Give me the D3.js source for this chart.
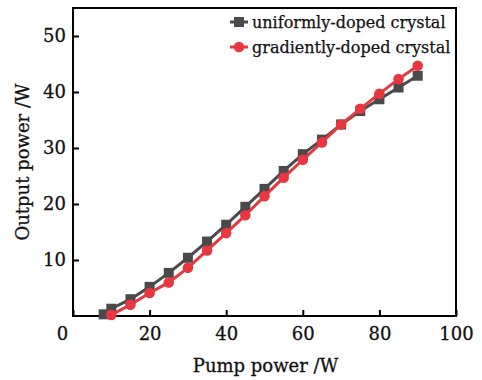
<!DOCTYPE html>
<html>
<head>
<meta charset="utf-8">
<script src="https://cdn.jsdelivr.net/npm/d3@7"></script>
<style>
  html, body { margin: 0; padding: 0; background: #fff; }
  #chart svg { display: block; font-family: "DejaVu Serif", serif; }
</style>
</head>
<body>
<div id="chart"></div>
<script>
// pump power vs output power, two crystals
const uniformX = [8, 10, 15, 20, 25, 30, 35, 40, 45, 50, 55, 60, 65, 70, 75, 80, 85, 90];
const uniformY = [0.3, 1.3, 3.0, 5.2, 7.7, 10.4, 13.3, 16.3, 19.5, 22.7, 25.9, 28.9, 31.5, 34.2, 36.6, 38.7, 40.8, 42.9];
const gradientX = [10, 15, 20, 25, 30, 35, 40, 45, 50, 55, 60, 65, 70, 75, 80, 85, 90];
const gradientY = [0.2, 2.0, 4.1, 6.0, 8.6, 11.7, 14.8, 18.0, 21.4, 24.7, 27.9, 31.0, 34.2, 37.0, 39.7, 42.3, 44.7];
const xTicks = [0, 20, 40, 60, 80, 100];
const yTicks = [10, 20, 30, 40, 50];
const seriesNames = ["uniformly-doped crystal", "gradiently-doped crystal"];

const GREY = "#4a4a4a", RED = "#e8373f";

const width = 482, height = 380;
const margin = { top: 8, right: 26, bottom: 64, left: 73 };

const svg = d3.select("#chart").append("svg")
  .attr("width", width)
  .attr("height", height);

const x = d3.scaleLinear().domain([0, 100]).range([margin.left, width - margin.right]);
const y = d3.scaleLinear().domain([0, 55]).range([height - margin.bottom, margin.top]);

/* ---------- axes ---------- */
svg.append("g")
  .attr("transform", `translate(0,${height - margin.bottom})`)
  .call(d3.axisBottom(x).tickValues(xTicks).tickSizeInner(-6).tickSizeOuter(0).tickPadding(11))
  .call(g => g.select(".domain").remove())
  .call(g => g.selectAll(".tick line").attr("stroke", "#000").attr("stroke-width", 2))
  .call(g => g.selectAll(".tick text").attr("font-size", 18).attr("fill", "#111")
    .attr("stroke", "#111").attr("stroke-width", 0.3)
    .attr("font-family", "DejaVu Serif, serif")
    .attr("dx", d => d === 0 ? -11 : 0));

svg.append("g")
  .attr("transform", `translate(${margin.left},0)`)
  .call(d3.axisLeft(y).tickValues(yTicks).tickSizeInner(-6).tickSizeOuter(0).tickPadding(7))
  .call(g => g.select(".domain").remove())
  .call(g => g.selectAll(".tick line").attr("stroke", "#000").attr("stroke-width", 2))
  .call(g => g.selectAll(".tick text").attr("font-size", 18).attr("fill", "#111")
    .attr("stroke", "#111").attr("stroke-width", 0.3)
    .attr("font-family", "DejaVu Serif, serif"));

// frame
svg.append("rect")
  .attr("x", x(0)).attr("y", y(55))
  .attr("width", x(100) - x(0)).attr("height", y(0) - y(55))
  .attr("fill", "none").attr("stroke", "#000").attr("stroke-width", 2);

// titles
svg.append("text")
  .attr("x", (x(0) + x(100)) / 2 + 1).attr("y", 372)
  .attr("text-anchor", "middle").attr("font-size", 18).attr("fill", "#111")
  .attr("stroke", "#111").attr("stroke-width", 0.3)
  .text("Pump power /W");

svg.append("text")
  .attr("transform", `translate(29,${(y(0) + y(55)) / 2}) rotate(-90)`)
  .attr("text-anchor", "middle").attr("font-size", 18).attr("fill", "#111")
  .attr("stroke", "#111").attr("stroke-width", 0.3)
  .text("Output power /W");

/* ---------- series ---------- */
const line = d3.line().x(d => x(d[0])).y(d => y(d[1]));
const uni = uniformX.map((v, i) => [v, uniformY[i]]);
const grad = gradientX.map((v, i) => [v, gradientY[i]]);

svg.append("path").datum(uni)
  .attr("fill", "none").attr("stroke", GREY).attr("stroke-width", 3).attr("d", line);
svg.append("g").selectAll("rect").data(uni).join("rect")
  .attr("x", d => x(d[0]) - 5).attr("y", d => y(d[1]) - 5)
  .attr("width", 10).attr("height", 10).attr("fill", GREY);

svg.append("path").datum(grad)
  .attr("fill", "none").attr("stroke", RED).attr("stroke-width", 3).attr("d", line);
svg.append("g").selectAll("circle").data(grad).join("circle")
  .attr("cx", d => x(d[0])).attr("cy", d => y(d[1]))
  .attr("r", 5.3).attr("fill", RED);

/* ---------- legend ---------- */
const legend = svg.append("g").attr("transform", "translate(230,22)");
const leg = legend.selectAll("g").data(seriesNames).join("g")
  .attr("transform", (d, i) => `translate(0,${i * 25})`);
leg.append("line").attr("x1", 0).attr("x2", 18).attr("y1", 0).attr("y2", 0)
  .attr("stroke", (d, i) => i ? RED : GREY).attr("stroke-width", 3);
leg.filter((d, i) => i === 0).append("rect")
  .attr("x", 4).attr("y", -5).attr("width", 10).attr("height", 10).attr("fill", GREY);
leg.filter((d, i) => i === 1).append("circle")
  .attr("cx", 9).attr("cy", 0).attr("r", 5.3).attr("fill", RED);
leg.append("text").attr("x", 22).attr("y", 5.5)
  .attr("font-size", 16).attr("fill", "#111")
  .attr("stroke", "#111").attr("stroke-width", 0.25)
  .text(d => d);
</script>
</body>
</html>
